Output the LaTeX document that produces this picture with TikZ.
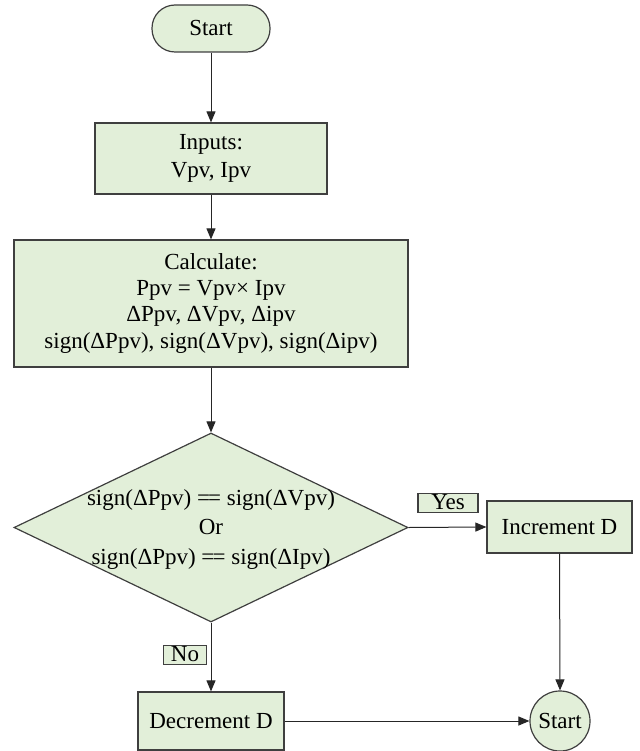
\documentclass[tikz,border=0pt]{standalone}
\usepackage{fontspec}
\setmainfont{Liberation Serif}
\usetikzlibrary{arrows.meta, shapes.geometric}
\definecolor{cfill}{HTML}{E2EFD9}
\definecolor{cline}{HTML}{3F3F3F}
\newcommand{\eqeq}{=\kern-0.08em=}
\tikzset{
  every picture/.style={font=\fontsize{23}{26}\selectfont, line width=1pt},
  box/.style={draw=cline, fill=cfill, line width=1.2pt, align=center, inner sep=0pt},
  arrow/.style={-{Triangle[length=11pt, width=9pt]}, draw=black!85, line width=1pt},
  tag/.style={box, font=\fontsize{23}{23}\selectfont, inner xsep=0pt, inner ysep=0pt, minimum height=19pt, text height=14pt, text depth=1pt},
}
\begin{document}
\begin{tikzpicture}[
    x=1pt, y=-1pt,
    term/.style={box, rounded corners=23pt, minimum width=118pt, minimum height=47pt},
    proc/.style={box},
    cond/.style={box, diamond, minimum width=394pt, minimum height=189pt},
    stopc/.style={box, circle, minimum size=60pt},
  ]
  \useasboundingbox (0,0) rectangle (639,751);

  % ---- main column
  \node[term] (start) at (211,28.5) {Start};
  \node[proc, minimum width=232pt, minimum height=71pt, font=\fontsize{23}{28}\selectfont] (inp) at (211,158.5) {Inputs:\\Vpv, Ipv};
  \node[proc, minimum width=394pt, minimum height=127pt] (calc) at (211,303.5)
    {Calculate:\\Ppv = Vpv× Ipv\\ΔPpv, ΔVpv, Δipv\\sign(ΔPpv), sign(ΔVpv), sign(Δipv)};
  \node[cond] (chk) at (211,527.5) {};
  \node[align=center, inner sep=0pt, font=\fontsize{23}{29.5}\selectfont] (chktxt) at (211,529)
    {sign(ΔPpv) \eqeq{} sign(ΔVpv)\\Or\\sign(ΔPpv) \eqeq{} sign(ΔIpv)};

  % ---- outcomes
  \node[proc, minimum width=145pt, minimum height=52pt] (inc) at (559.5,527) {Increment D};
  \node[proc, minimum width=146pt, minimum height=58pt] (decr) at (211,721) {Decrement D};
  \node[stopc] (stop) at (560,721) {Start};

  \node[tag, minimum width=60pt] (yes) at (448,503) {Yes};
  \node[tag, minimum width=43pt] (no) at (185,655) {No};

  \draw[arrow] (start.south) -- (inp.north);
  \draw[arrow] (inp.south) -- (calc.north);
  \draw[arrow] (calc.south) -- (chk.north);
  \draw[arrow] (chk.east) -- (inc.west);
  \draw[arrow] (chk.south) -- (decr.north);
  \draw[arrow] (inc.south) -- (stop.north);
  \draw[arrow] (decr.east) -- (stop.west);
\end{tikzpicture}
\end{document}
